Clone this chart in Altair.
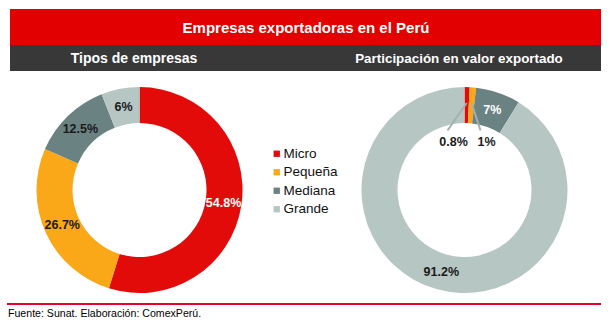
import math
import altair as alt
import pandas as pd

# ---------------- data ----------------
tipos = ["Micro", "Pequeña", "Mediana", "Grande"]
empresas_pct = [54.8, 26.7, 12.5, 6.0]      # Tipos de empresas
valor_pct = [0.8, 1.0, 7.0, 91.2]           # Participación en valor exportado
colores = ["#E30A0A", "#FBA818", "#6B8282", "#B5C6C3"]

titulo = "Empresas exportadoras en el Perú"
subtitulo_izq = "Tipos de empresas"
subtitulo_der = "Participación en valor exportado"
fuente = "Fuente: Sunat. Elaboración: ComexPerú."

FONT = "Liberation Sans"
W, H = 610, 326
CY = 190
CX_L, CX_R = 139.5, 464.5
R_IN, R_OUT, R_LBL = 67, 103, 85

df_e = pd.DataFrame({"tipo": tipos, "orden": list(range(4)), "pct": empresas_pct})
df_v = pd.DataFrame({"tipo": tipos, "orden": list(range(4)), "pct": valor_pct})
dummy = pd.DataFrame({"a": [0]})

color_scale = alt.Scale(domain=tipos, range=colores)
theta_scale = alt.Scale(domain=[0, 100])


def donut(df, cx, white_tipo, show_tipos, legend):
    base = alt.Chart(df)
    arc = base.mark_arc(innerRadius=R_IN, outerRadius=R_OUT).encode(
        theta=alt.Theta("pct:Q", stack=True, scale=theta_scale),
        order=alt.Order("orden:Q", sort="ascending"),
        color=alt.Color("tipo:N", scale=color_scale, sort=tipos, legend=legend),
        x=alt.value(cx),
        y=alt.value(CY),
    )
    txt = (
        base.transform_window(cum="sum(pct)", sort=[alt.SortField("orden")], frame=[None, 0])
        .transform_calculate(mid="datum.cum - datum.pct / 2",
                             lbl="format(datum.pct, '.1~f') + '%'")
        .transform_filter(alt.FieldOneOfPredicate(field="tipo", oneOf=show_tipos))
        .mark_text(radius=R_LBL, font=FONT, fontSize=12.5, fontWeight="bold",
                   align="center", baseline="middle")
        .encode(
            theta=alt.Theta("mid:Q", scale=theta_scale),
            text="lbl:N",
            x=alt.value(cx),
            y=alt.value(CY),
            color=alt.condition(f"datum.tipo == '{white_tipo}'",
                                alt.value("white"), alt.value("#1a1a1a")),
        )
    )
    return arc, txt


legend = alt.Legend(
    title=None, orient="none", legendX=270, legendY=147, symbolType="square",
    symbolSize=40, symbolStrokeWidth=0, labelFont=FONT, labelFontSize=13.5,
    labelColor="#111", labelOffset=0, rowPadding=3.5, padding=0,
)

arc_l, txt_l = donut(df_e, CX_L, "Micro", tipos, legend)
arc_r, txt_r = donut(df_v, CX_R, "Mediana", ["Mediana", "Grande"], None)

# small-slice labels with leader lines (right donut)
cum = 0.0
lead_rows = []
lbl_offsets = [(-11, -48.5), (22, -48.5)]
for i in range(2):
    mid = cum + valor_pct[i] / 2
    cum += valor_pct[i]
    ang = mid / 100 * 2 * math.pi
    x0 = CX_R + 87 * math.sin(ang)
    y0 = CY - 87 * math.cos(ang)
    lx = CX_R + lbl_offsets[i][0]
    ly = CY + lbl_offsets[i][1]
    lead_rows.append({"x0": x0, "y0": y0, "x1": lx - 6, "y1": ly - 11,
                      "lx": lx, "ly": ly,
                      "lbl": f"{valor_pct[i]:g}%"})
lead = pd.DataFrame(lead_rows)

leaders = alt.Chart(lead).mark_rule(color="#9FB2B1", strokeWidth=2).encode(
    x=alt.X("x0:Q", scale=None), y=alt.Y("y0:Q", scale=None),
    x2="x1:Q", y2="y1:Q",
)
small_lbl = alt.Chart(lead).mark_text(
    font=FONT, fontSize=12.5, fontWeight="bold", color="#1a1a1a",
    align="center", baseline="middle",
).encode(x=alt.X("lx:Q", scale=None), y=alt.Y("ly:Q", scale=None), text="lbl:N")

# header / footer decorations
def rect(x1, x2, y1, y2, color):
    return alt.Chart(dummy).mark_rect(color=color).encode(
        x=alt.value(x1), x2=alt.value(x2), y=alt.value(y1), y2=alt.value(y2))


def label(txt, x, y, size, color, weight="bold", align="center", baseline="middle"):
    return alt.Chart(dummy).mark_text(
        font=FONT, fontSize=size, fontWeight=weight, color=color,
        align=align, baseline=baseline,
    ).encode(x=alt.value(x), y=alt.value(y), text=alt.value(txt))


banner = rect(10, 601, 9, 45, "#E20000")
subbar = rect(10, 601, 45, 71, "#383838")
t_main = label(titulo, 306, 28, 15, "white")
t_left = label(subtitulo_izq, 134, 59, 14, "white")
t_right = label(subtitulo_der, 459, 59, 13.4, "white")
footer_line = alt.Chart(dummy).mark_rule(color="#E4002B", strokeWidth=2).encode(
    x=alt.value(7), x2=alt.value(601), y=alt.value(304))
footer = label(fuente, 8, 314, 10.6, "#000", weight="normal", align="left")

chart = alt.layer(
    banner, subbar, t_main, t_left, t_right,
    arc_l, arc_r, txt_l, txt_r, leaders, small_lbl,
    footer_line, footer,
).properties(
    width=W, height=H, padding=0, autosize=alt.AutoSizeParams(type="none"),
    background="white",
).configure_view(stroke=None)

chart.save("out.html", embed_options={"renderer": "svg", "actions": False})
